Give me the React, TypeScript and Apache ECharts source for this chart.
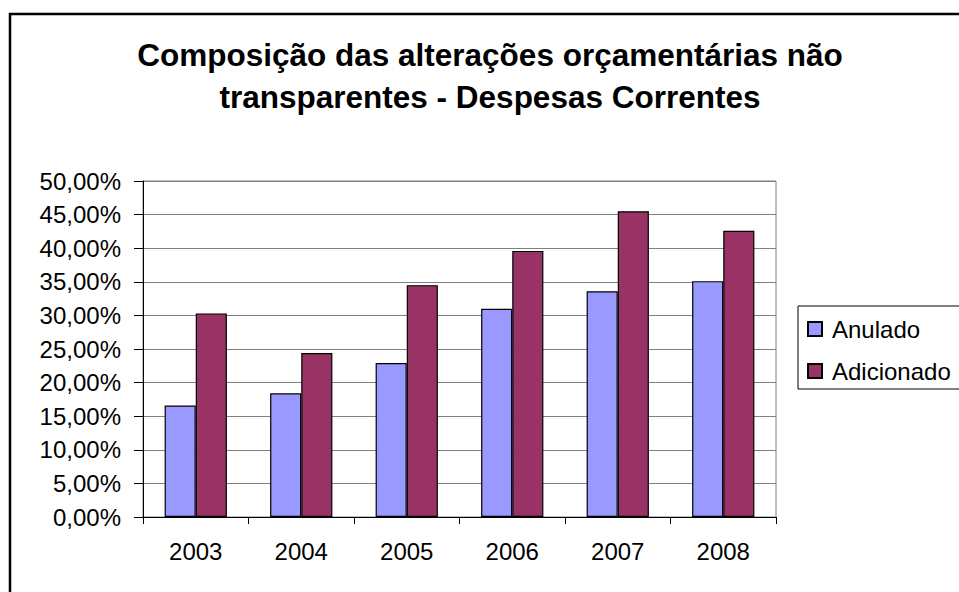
import { useEffect, useRef } from 'react';
import * as echarts from 'echarts';

const categories = ['2003', '2004', '2005', '2006', '2007', '2008'];
const anulado = [16.6, 18.4, 22.9, 31.0, 33.6, 35.1];
const adicionado = [30.3, 24.4, 34.5, 39.6, 45.5, 42.6];
const seriesNames = ['Anulado', 'Adicionado'];
const titleLines = ['Composição das alterações orçamentárias não', 'transparentes - Despesas Correntes'];
const yMin = 0;
const yMax = 50;
const yStep = 5;

const FONT = '"Liberation Sans", Arial, Helvetica, sans-serif';

export default function App() {
  const ref = useRef<HTMLDivElement>(null);
  useEffect(() => {
    const chart = echarts.init(ref.current!, null, { renderer: 'svg' });
    chart.setOption({
      animation: false,
      backgroundColor: '#ffffff',
      textStyle: { fontFamily: FONT },
      graphic: [
        {
          type: 'rect',
          x: 10,
          y: 14,
          shape: { x: 0, y: 0, width: 1200, height: 800 },
          style: { fill: 'none', stroke: '#000', lineWidth: 2.5 },
          z: 0,
          silent: true,
        },
        {
          type: 'text',
          x: 490,
          y: 34,
          style: {
            text: titleLines.join('\n'),
            font: `bold 31.5px ${FONT}`,
            fill: '#000',
            textAlign: 'center',
            textVerticalAlign: 'top',
            lineHeight: 42,
          },
          z: 10,
        },
      ],
      grid: {
        left: 143,
        right: 183,
        top: 181,
        bottom: 75,
        show: true,
        borderColor: '#808080',
        borderWidth: 1,
        backgroundColor: 'transparent',
      },
      legend: {
        data: seriesNames,
        orient: 'vertical',
        left: 798,
        top: 306,
        borderColor: '#000',
        borderWidth: 1,
        padding: [9, 12, 4, 9],
        itemWidth: 14,
        itemHeight: 14,
        itemGap: 14,
        icon: 'rect',
        textStyle: { fontSize: 24, color: '#000', lineHeight: 28, fontFamily: FONT, padding: [0, 0, 0, 5] },
      },
      xAxis: {
        type: 'category',
        data: categories,
        boundaryGap: true,
        axisLine: { show: true, lineStyle: { color: '#000', width: 1 } },
        axisTick: { show: true, length: 7, alignWithLabel: false, lineStyle: { color: '#000' } },
        axisLabel: { fontSize: 24, color: '#000', margin: 22, fontFamily: FONT },
        splitLine: { show: false },
      },
      yAxis: {
        type: 'value',
        min: yMin,
        max: yMax,
        interval: yStep,
        axisLine: { show: true, lineStyle: { color: '#000', width: 1 } },
        axisTick: { show: true, length: 9, lineStyle: { color: '#000' } },
        axisLabel: {
          fontSize: 24,
          color: '#000',
          margin: 22,
          fontFamily: FONT,
          formatter: (v: number) => v.toFixed(2).replace('.', ',') + '%',
        },
        splitLine: { show: true, lineStyle: { color: '#808080', width: 1 } },
      },
      series: [
        {
          name: seriesNames[0],
          type: 'bar',
          data: anulado,
          barGap: '0%',
          barCategoryGap: '41%',
          itemStyle: { color: '#9999FF', borderColor: '#000', borderWidth: 1.2 },
        },
        {
          name: seriesNames[1],
          type: 'bar',
          data: adicionado,
          barGap: '0%',
          barCategoryGap: '41%',
          itemStyle: { color: '#993366', borderColor: '#000', borderWidth: 1.2 },
        },
      ],
    });
    return () => chart.dispose();
  }, []);
  return (
    <div
      ref={ref}
      style={{ position: 'fixed', left: 0, top: 0, width: 959, height: 592, overflow: 'hidden', background: '#fff' }}
    />
  );
}
